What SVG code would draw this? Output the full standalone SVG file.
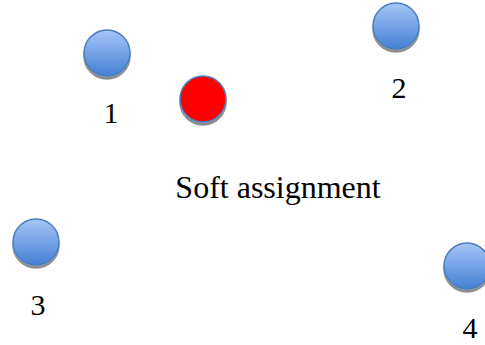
<svg xmlns="http://www.w3.org/2000/svg" width="485" height="345" viewBox="0 0 485 345">
<defs>
<linearGradient id="blue" x1="0" y1="0" x2="0" y2="1">
<stop offset="0" stop-color="#a5c6f8"/>
<stop offset="1" stop-color="#4580d4"/>
</linearGradient>
<filter id="sh" x="-30%" y="-30%" width="160%" height="170%">
<feGaussianBlur in="SourceAlpha" stdDeviation="0.7"/>
<feOffset dx="0" dy="3" result="b"/>
<feFlood flood-color="#000" flood-opacity="0.45"/>
<feComposite in2="b" operator="in"/>
<feMerge><feMergeNode/><feMergeNode in="SourceGraphic"/></feMerge>
</filter>
</defs>
<style>
.node{fill:url(#blue);stroke:#4a7ebb;stroke-width:1.5;filter:url(#sh)}
.red{fill:#ff0000;stroke:#4a7ebb;stroke-width:1.5;filter:url(#sh)}
text{font-family:"Liberation Serif","Times New Roman",serif;font-size:30px;fill:#000;text-anchor:middle}
.big{font-size:32px}
</style>
<g id="node1"><circle class="node" cx="107" cy="53" r="23"/><text x="111" y="123">1</text></g>
<g id="node2"><circle class="node" cx="396" cy="26" r="23"/><text x="399" y="98">2</text></g>
<g id="node3"><circle class="node" cx="36" cy="242" r="23"/><text x="38" y="315">3</text></g>
<g id="node4"><circle class="node" cx="467" cy="266" r="23"/><text x="470" y="338">4</text></g>
<g id="center"><circle class="red" cx="203" cy="99" r="23"/></g>
<g id="label"><text class="big" x="278" y="198">Soft assignment</text></g>
<g id="connectors"/>
</svg>
